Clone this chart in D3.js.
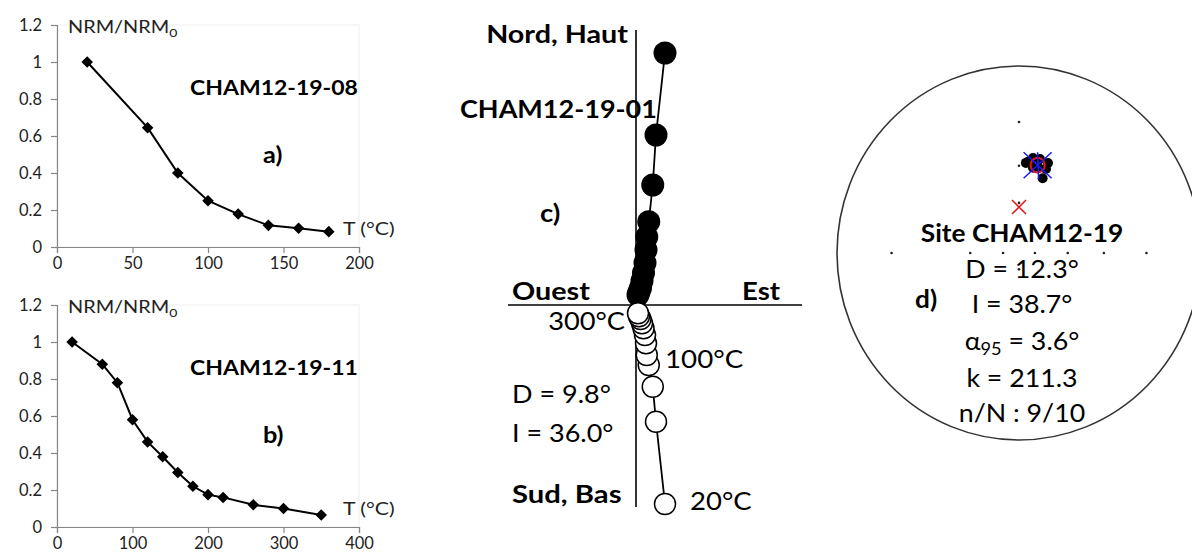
<!DOCTYPE html>
<html>
<head>
<meta charset="utf-8">
<script src="https://cdn.jsdelivr.net/npm/d3@7"></script>
<style>
  body { margin: 0; background: #fff; }
  svg { display: block; font-family: Lato, Carlito, Calibri, sans-serif; }
</style>
</head>
<body>
<div id="chart"></div>
<script>
// a) demagnetisation curve CHAM12-19-08
const tempsA = [20, 60, 80, 100, 120, 140, 160, 180];
const nrmA = [1.0, 0.645, 0.40, 0.25, 0.178, 0.117, 0.101, 0.083];
const xTicksA = [0, 50, 100, 150, 200];

// b) demagnetisation curve CHAM12-19-11
const tempsB = [20, 60, 80, 100, 120, 140, 160, 180, 200, 220, 260, 300, 350];
const nrmB = [1.0, 0.88, 0.78, 0.58, 0.46, 0.38, 0.295, 0.22, 0.175, 0.16, 0.12, 0.10, 0.065];
const xTicksB = [0, 100, 200, 300, 400];

const yTicks = [0, 0.2, 0.4, 0.6, 0.8, 1, 1.2];

// c) Zijderveld diagram CHAM12-19-01 (components, normalised)
const zTemps = [20, 60, 80, 100, 120, 140, 160, 180, 200, 220, 260, 300];
const zEast = [0.116, 0.080, 0.067, 0.051, 0.043, 0.040, 0.036, 0.030, 0.024, 0.018, 0.012, 0.008];
const zNorth = [1.008, 0.680, 0.480, 0.333, 0.272, 0.220, 0.168, 0.128, 0.096, 0.068, 0.052, 0.040];
const zDown = [0.796, 0.467, 0.327, 0.240, 0.200, 0.153, 0.120, 0.093, 0.073, 0.056, 0.045, 0.033];

// d) site directions (lower hemisphere, stereographic)
const siteDec = [18.0, 18.3, 4.5, 8.6, 12.9, 9.6, 12.8, 18.3, 5.8];
const siteInc = [44.4, 36.2, 38.4, 35.6, 35.4, 40.4, 39.4, 39.4, 37.8];
const meanDec = 12.3, meanInc = 38.7, alpha95 = 3.6;
const refDec = 0, refInc = 62.4;
const netMarks = [[0, 20], [0, 40], [0, 60], [0, 80], [90, 20], [90, 40], [90, 60], [90, 80],
                  [270, 20], [270, 60], [270, 80], [180, 80]];

const W = 1192, H = 558;
const svg = d3.select('#chart').append('svg')
  .attr('width', W)
  .attr('height', H);

const ink = '#222';
const axisGrey = '#868686';

// text with a small horizontal stretch (the source art is wider than Lato)
function addText(x, y, str, size, opts = {}) {
  return svg.append('text')
    .attr('transform', `translate(${x},${y}) scale(${opts.stretch || 1},1)`)
    .attr('font-size', size)
    .attr('font-weight', opts.bold ? 700 : 400)
    .attr('text-anchor', opts.anchor || 'start')
    .attr('fill', opts.fill || '#000')
    .text(str);
}

// ---------- a) and b) ----------
function decayPanel(temps, vals, xTicks, top, name, letter) {
  const x = d3.scaleLinear().domain([0, xTicks[xTicks.length - 1]]).range([57, 359]);
  const y = d3.scaleLinear().domain([0, 1.2]).range([top + 222, top]);
  const g = svg.append('g');

  // faint plot border
  g.append('rect')
    .attr('x', x(0)).attr('y', y(1.2))
    .attr('width', x.range()[1] - x(0)).attr('height', y(0) - y(1.2))
    .attr('fill', 'none').attr('stroke', '#efefef');

  const xAxis = g.append('g')
    .attr('transform', `translate(0,${y(0)})`)
    .call(d3.axisBottom(x).tickValues(xTicks).tickSize(6).tickPadding(4).tickFormat(d => d));
  const yAxis = g.append('g')
    .attr('transform', `translate(${x(0)},0)`)
    .call(d3.axisLeft(y).tickValues(yTicks).tickSize(6).tickPadding(9).tickFormat(d => String(d)));
  [xAxis, yAxis].forEach(a => {
    a.select('.domain').attr('stroke', axisGrey).attr('stroke-width', 1.2);
    a.selectAll('.tick line').attr('stroke', axisGrey).attr('stroke-width', 1.2);
    a.selectAll('.tick text').attr('font-size', 16.5).attr('fill', ink)
      .attr('font-family', 'Lato, Carlito, Calibri, sans-serif');
  });

  const line = d3.line().x((d, i) => x(temps[i])).y(d => y(d));
  g.append('path')
    .datum(vals)
    .attr('d', line)
    .attr('fill', 'none')
    .attr('stroke', '#000')
    .attr('stroke-width', 2);

  g.selectAll('.pt')
    .data(vals)
    .join('path')
    .attr('class', 'pt')
    .attr('transform', (d, i) => `translate(${x(temps[i])},${y(d)})`)
    .attr('d', d3.symbol(d3.symbolDiamond2, 85))
    .attr('fill', '#000');

  const lab = addText(68, top + 8, 'NRM/NRM', 17, { fill: ink, stretch: 1.17 });
  lab.append('tspan').attr('dy', 4).attr('font-size', 12).text('0');
  addText(190, top + 70, name, 20, { bold: true, stretch: 1.15 });
  addText(263, top + 138, letter, 22, { bold: true, stretch: 1.15 });
  addText(343, top + 210, 'T (°C)', 17, { fill: ink, stretch: 1.25 });
}

decayPanel(tempsA, nrmA, xTicksA, 25, 'CHAM12-19-08', 'a)');
decayPanel(tempsB, nrmB, xTicksB, 305, 'CHAM12-19-11', 'b)');

// ---------- c) Zijderveld ----------
const zx = d3.scaleLinear().domain([-0.512, 0.664]).range([508, 802]);
const zy = d3.scaleLinear().domain([-0.808, 1.1]).range([507, 30]);
const zg = svg.append('g');

zg.append('line')
  .attr('x1', zx(0)).attr('x2', zx(0))
  .attr('y1', zy(1.1)).attr('y2', zy(-0.808))
  .attr('stroke', '#000').attr('stroke-width', 1.6);
zg.append('line')
  .attr('x1', zx(-0.512)).attr('x2', zx(0.664))
  .attr('y1', zy(0)).attr('y2', zy(0))
  .attr('stroke', '#000').attr('stroke-width', 1.6);

const horiz = zTemps.map((t, i) => [zEast[i], zNorth[i]]);
const vert = zTemps.map((t, i) => [zEast[i], -zDown[i]]);
const zline = d3.line().x(d => zx(d[0])).y(d => zy(d[1]));

[horiz, vert].forEach(pts => {
  zg.append('path')
    .datum(pts)
    .attr('d', zline)
    .attr('fill', 'none')
    .attr('stroke', '#000')
    .attr('stroke-width', 1.8);
});

zg.selectAll('.hpt')
  .data(horiz)
  .join('circle')
  .attr('class', 'hpt')
  .attr('cx', d => zx(d[0]))
  .attr('cy', d => zy(d[1]))
  .attr('r', 11.5)
  .attr('fill', '#000');

zg.selectAll('.vpt')
  .data(vert)
  .join('circle')
  .attr('class', 'vpt')
  .attr('cx', d => zx(d[0]))
  .attr('cy', d => zy(d[1]))
  .attr('r', 10.5)
  .attr('fill', '#fff')
  .attr('stroke', '#000')
  .attr('stroke-width', 1.5);

addText(628, 43, 'Nord, Haut', 25, { bold: true, anchor: 'end', stretch: 1.15 });
addText(460, 118, 'CHAM12-19-01', 25, { bold: true, stretch: 1.08 });
addText(540, 222, 'c)', 25, { bold: true, stretch: 1.1 });
addText(512, 300, 'Ouest', 25, { bold: true, stretch: 1.15 });
addText(780, 300, 'Est', 25, { bold: true, anchor: 'end', stretch: 1.1 });
addText(625, 330, '300°C', 25, { anchor: 'end', stretch: 1.09 });
addText(665, 368, '100°C', 25, { stretch: 1.11 });
addText(512, 403, 'D = 9.8°', 25, { stretch: 1.08 });
addText(512, 442, 'I = 36.0°', 25, { stretch: 1.08 });
addText(512, 503, 'Sud, Bas', 25, { bold: true, stretch: 1.17 });
addText(690, 510, '20°C', 25, { stretch: 1.1 });

// ---------- d) stereonet ----------
const rad = Math.PI / 180;
const sx = d3.scaleLinear().domain([-1, 1]).range([1019 - 182, 1019 + 182]);
const sy = d3.scaleLinear().domain([-1, 1]).range([253 + 187, 253 - 187]);
function proj(D, I) {
  const r = Math.tan((90 - I) / 2 * rad);
  return [sx(r * Math.sin(D * rad)), sy(r * Math.cos(D * rad))];
}
const sg = svg.append('g');

sg.append('ellipse')
  .attr('cx', sx(0)).attr('cy', sy(0))
  .attr('rx', sx(1) - sx(0)).attr('ry', sy(-1) - sy(0))
  .attr('fill', 'none')
  .attr('stroke', '#333')
  .attr('stroke-width', 1.6);

sg.selectAll('.mark')
  .data(netMarks)
  .join('circle')
  .attr('class', 'mark')
  .attr('cx', d => proj(d[0], d[1])[0])
  .attr('cy', d => proj(d[0], d[1])[1])
  .attr('r', 1.3)
  .attr('fill', '#222');

// reference direction
const ref = proj(refDec, refInc);
sg.append('path')
  .attr('d', `M${ref[0] - 7},${ref[1] - 7}L${ref[0] + 7},${ref[1] + 7}M${ref[0] - 7},${ref[1] + 7}L${ref[0] + 7},${ref[1] - 7}`)
  .attr('stroke', '#e8161b')
  .attr('stroke-width', 1.5);

sg.selectAll('.site')
  .data(siteDec)
  .join('circle')
  .attr('class', 'site')
  .attr('cx', (d, i) => proj(d, siteInc[i])[0])
  .attr('cy', (d, i) => proj(d, siteInc[i])[1])
  .attr('r', 5)
  .attr('fill', '#000');

// alpha95 cone
function toVec(D, I) {
  return [Math.cos(I * rad) * Math.cos(D * rad), Math.cos(I * rad) * Math.sin(D * rad), Math.sin(I * rad)];
}
const m = toVec(meanDec, meanInc);
let u = [-m[1], m[0], 0];
const un = Math.hypot(u[0], u[1]);
u = u.map(v => v / un);
const w = [m[1] * u[2] - m[2] * u[1], m[2] * u[0] - m[0] * u[2], m[0] * u[1] - m[1] * u[0]];
const cone = d3.range(0, 361, 10).map(t => {
  const a = alpha95 * rad, tt = t * rad;
  const p = [0, 1, 2].map(k => Math.cos(a) * m[k] + Math.sin(a) * (Math.cos(tt) * u[k] + Math.sin(tt) * w[k]));
  return proj(Math.atan2(p[1], p[0]) / rad, Math.asin(p[2]) / rad);
});
sg.append('path')
  .attr('d', d3.line()(cone))
  .attr('fill', 'none')
  .attr('stroke', '#e8161b')
  .attr('stroke-width', 2);

const mp = proj(meanDec, meanInc);
sg.append('path')
  .attr('d', `M${mp[0] - 14},${mp[1] - 13}L${mp[0] + 14},${mp[1] + 13}M${mp[0] - 14},${mp[1] + 13}L${mp[0] + 14},${mp[1] - 13}M${mp[0]},${mp[1] - 13}L${mp[0] + 1},${mp[1] + 14}`)
  .attr('stroke', '#1a1aff')
  .attr('stroke-width', 1.5);

addText(1022, 242, 'Site CHAM12-19', 25, { bold: true, anchor: 'middle', stretch: 1.05 });
addText(1022, 278, 'D = 12.3°', 25, { anchor: 'middle', stretch: 1.07 });
addText(1022, 313, 'I = 38.7°', 25, { anchor: 'middle', stretch: 1.07 });
const a95 = addText(1022, 350, 'α', 25, { anchor: 'middle', stretch: 1.07 });
a95.append('tspan').attr('dy', 5).attr('font-size', 17).text('95');
a95.append('tspan').attr('dy', -5).text(' = 3.6°');
addText(1022, 387, 'k = 211.3', 25, { anchor: 'middle', stretch: 1.07 });
addText(1022, 422, 'n/N : 9/10', 25, { anchor: 'middle', stretch: 1.07 });
addText(915, 308, 'd)', 25, { bold: true, stretch: 1.05 });
</script>
</body>
</html>
